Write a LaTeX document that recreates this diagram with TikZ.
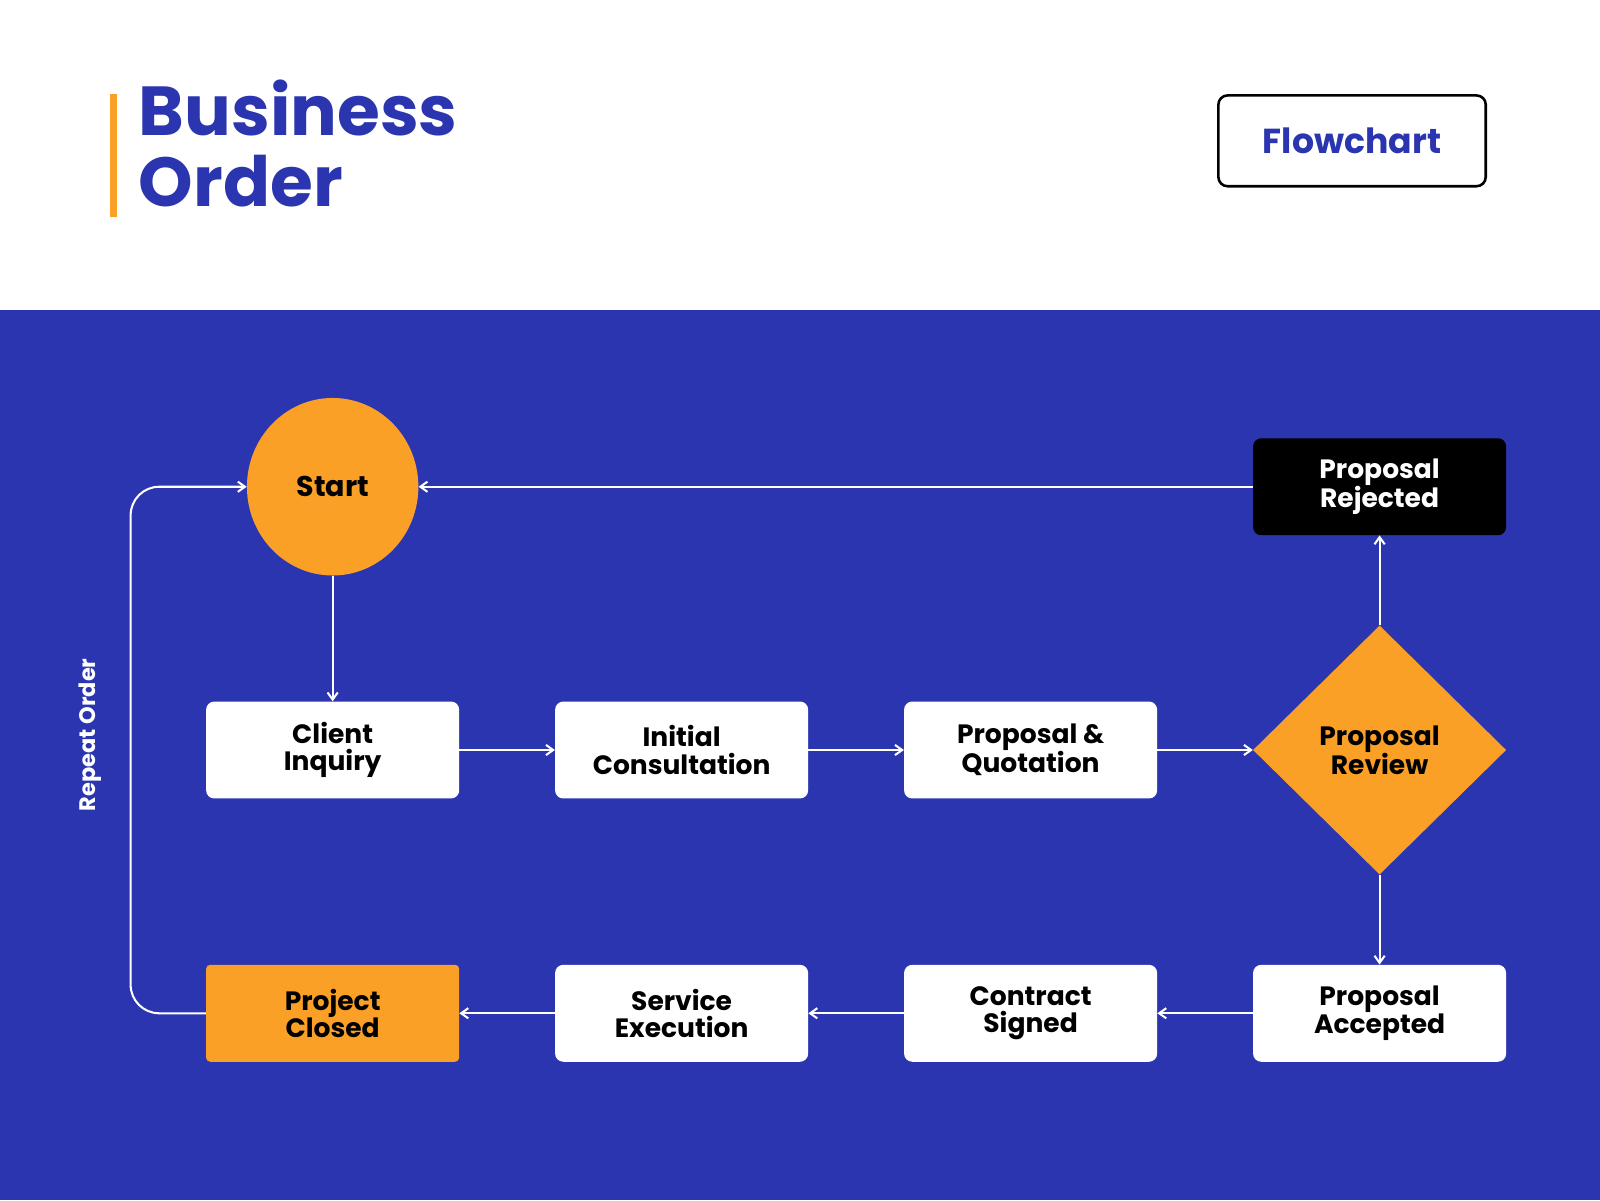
\documentclass[tikz,border=0pt]{standalone}
\usepackage{fontspec}
\setmainfont{Poppins}
\usetikzlibrary{arrows.meta,shapes.geometric}
\definecolor{bblue}{HTML}{2B35AF}
\definecolor{orng}{HTML}{FBA027}
\tikzset{
 box/.style={rounded corners=8pt,minimum width=248pt,minimum height=95pt,align=center,font=\fontsize{26}{27}\selectfont\bfseries,inner sep=0pt},
 wbox/.style={box,fill=white,text=black},
 conn/.style={draw=white,line width=2pt,-{Straight Barb[length=7pt,width=10pt]}}
}
\begin{document}
\begin{tikzpicture}[x=1pt,y=-1pt]
\useasboundingbox (0,0) rectangle (1568,1176);
\fill[white] (0,0) rectangle (1568,1176);
\fill[bblue] (0,304) rectangle (1568,1176);
\fill[orng] (108,92) rectangle (115,213);
\node[anchor=north west,align=left,text=bblue,font=\fontsize{68}{70}\selectfont\bfseries,inner sep=0pt] (title) at (136,78) {Business\\Order};
\node[draw=black,line width=2.5pt,rounded corners=9pt,minimum width=262pt,minimum height=89pt,text=bblue,font=\fontsize{34}{36}\selectfont\bfseries] (fc) at (1325,138) {Flowchart};
\node[ellipse,fill=orng,minimum width=168pt,minimum height=174pt,inner sep=0pt,font=\fontsize{28}{30}\selectfont\bfseries] (start) at (326,477) {Start};
\node[wbox] (ci) at (326,735) {Client\\Inquiry};
\node[wbox] (ic) at (668,735) {Initial\\Consultation};
\node[wbox] (pq) at (1010,735) {Proposal \&\\Quotation};
\node[diamond,fill=orng,minimum width=248pt,minimum height=244pt,inner sep=0pt,align=center,font=\fontsize{26}{27}\selectfont\bfseries] (pr) at (1352,735) {Proposal\\Review};
\node[box,fill=black,text=white] (rej) at (1352,477) {Proposal\\Rejected};
\node[box,fill=orng,rounded corners=4pt] (pc) at (326,993) {Project\\Closed};
\node[wbox] (se) at (668,993) {Service\\Execution};
\node[wbox] (cs) at (1010,993) {Contract\\Signed};
\node[wbox] (pa) at (1352,993) {Proposal\\Accepted};
\draw[conn] (start) -- (ci);
\draw[conn] (ci) -- (ic);
\draw[conn] (ic) -- (pq);
\draw[conn] (pq) -- (pr);
\draw[conn] (pr) -- (rej);
\draw[conn] (rej) -- (start);
\draw[conn] (pr) -- (pa);
\draw[conn] (pa) -- (cs);
\draw[conn] (cs) -- (se);
\draw[conn] (se) -- (pc);
\coordinate (lb) at (128,993);
\coordinate (lt) at (128,477);
\draw[conn,rounded corners=28pt] (pc.west) -- (lb) -- (lt) -- (start.west);
\node[rotate=90,text=white,font=\fontsize{22}{24}\selectfont\bfseries] (rep) at (88,720) {Repeat Order};
\end{tikzpicture}
\end{document}
